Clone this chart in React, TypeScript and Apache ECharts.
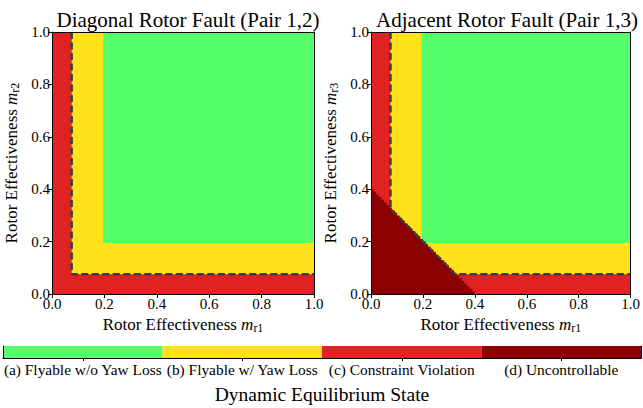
import React, { useEffect, useRef } from 'react';
import * as echarts from 'echarts';

const FONT = 'Liberation Serif';

const axisTicks = [0, 0.2, 0.4, 0.6, 0.8, 1.0];
const stateNames = [
  '(a) Flyable w/o Yaw Loss',
  '(b) Flyable w/ Yaw Loss',
  '(c) Constraint Violation',
  '(d) Uncontrollable',
];
const stateColors = ['#55FF6A', '#FFE11C', '#E02222', '#8B0000'];
const stateBarValues = [1, 1, 1, 1];

// region rectangles: [x0, y0, x1, y1, stateIndex]
const leftRegions = [
  [0, 0, 1, 1, 2],
  [0.075, 0.075, 1, 1, 1],
  [0.195, 0.195, 1, 1, 0],
];
const rightRegions = [
  [0, 0, 1, 1, 2],
  [0.075, 0.075, 1, 1, 1],
  [0.195, 0.195, 1, 1, 0],
];
// uncontrollable region (right plot): x-extent for each 0.01-high row from y = 0
const rightUncontrollableRows = [
  0.40, 0.39, 0.38, 0.37, 0.36, 0.35, 0.34, 0.33, 0.32, 0.31,
  0.30, 0.29, 0.28, 0.27, 0.26, 0.25, 0.24, 0.23, 0.22, 0.21,
  0.20, 0.19, 0.18, 0.17, 0.16, 0.15, 0.14, 0.13, 0.12, 0.11,
  0.10, 0.09, 0.08, 0.07, 0.06, 0.05, 0.04, 0.03, 0.02, 0.01,
];
const rowHeight = 0.01;
// dashed boundary polylines
const leftBoundary = [[0.075, 1], [0.075, 0.075], [1, 0.075]];
const rightBoundary = [[0.075, 1], [0.075, 0.325], [0.325, 0.075], [1, 0.075]];

function regionRender(params: any, api: any) {
  const x0 = api.value(0), y0 = api.value(1), x1 = api.value(2), y1 = api.value(3);
  const s = api.value(4);
  const p0 = api.coord([x0, y1]);
  const p1 = api.coord([x1, y0]);
  return {
    type: 'rect',
    shape: { x: p0[0], y: p0[1], width: p1[0] - p0[0], height: p1[1] - p0[1] },
    style: { fill: stateColors[s] },
  };
}

function staircaseRender(params: any, api: any) {
  const pts: number[][] = [];
  pts.push(api.coord([0, 0]));
  rightUncontrollableRows.forEach((ext, j) => {
    pts.push(api.coord([ext, j * rowHeight]));
    pts.push(api.coord([ext, (j + 1) * rowHeight]));
  });
  pts.push(api.coord([0, rightUncontrollableRows.length * rowHeight]));
  return {
    type: 'polygon',
    shape: { points: pts },
    style: { fill: stateColors[3] },
  };
}

const black = '#000';

const nameRich = {
  a: { fontFamily: FONT, fontSize: 17, color: black },
  m: { fontFamily: FONT, fontSize: 17, fontStyle: 'italic', color: black },
  s: { fontFamily: FONT, fontSize: 12, color: black, padding: [7, 0, 0, 0] },
};

function mainAxisX(gridIndex: number, sub: string) {
  return [
    {
      type: 'value', gridIndex, position: 'bottom', min: 0, max: 1, interval: 0.2,
      axisLine: { show: true, onZero: false, lineStyle: { color: black, width: 1 } },
      axisTick: { show: true, length: 4, lineStyle: { color: black } },
      axisLabel: { color: black, fontFamily: FONT, fontSize: 15, margin: 2, formatter: (v: number) => v.toFixed(1) },
      splitLine: { show: false },
      name: `{a|Rotor Effectiveness }{m|m}{s|${sub}}`,
      nameLocation: 'middle', nameGap: 19,
      nameTextStyle: { color: black, fontFamily: FONT, rich: nameRich },
      z: 5,
    },
    {
      type: 'value', gridIndex, position: 'top', min: 0, max: 1, interval: 0.2,
      axisLine: { show: true, onZero: false, lineStyle: { color: black, width: 1 } },
      axisTick: { show: false }, axisLabel: { show: false }, splitLine: { show: false }, z: 5,
    },
  ];
}

function mainAxisY(gridIndex: number, sub: string) {
  return [
    {
      type: 'value', gridIndex, position: 'left', min: 0, max: 1, interval: 0.2,
      axisLine: { show: true, onZero: false, lineStyle: { color: black, width: 1 } },
      axisTick: { show: true, length: 4, lineStyle: { color: black } },
      axisLabel: { color: black, fontFamily: FONT, fontSize: 15, margin: 2, formatter: (v: number) => v.toFixed(1) },
      splitLine: { show: false },
      name: `{a|Rotor Effectiveness }{m|m}{s|${sub}}`,
      nameLocation: 'middle', nameGap: 31,
      nameTextStyle: { color: black, fontFamily: FONT, rich: nameRich },
      z: 5,
    },
    {
      type: 'value', gridIndex, position: 'right', min: 0, max: 1, interval: 0.2,
      axisLine: { show: true, onZero: false, lineStyle: { color: black, width: 1 } },
      axisTick: { show: false }, axisLabel: { show: false }, splitLine: { show: false }, z: 5,
    },
  ];
}

export default function App() {
  const ref = useRef<HTMLDivElement>(null);
  useEffect(() => {
    document.body.style.margin = '0';
    const chart = echarts.init(ref.current!, null, { renderer: 'svg' });
    const option: any = {
      animation: false,
      backgroundColor: '#fff',
      title: [
        { text: 'Diagonal Rotor Fault (Pair 1,2)', left: 183, top: 4, textAlign: 'center',
          textStyle: { fontFamily: FONT, fontSize: 21, fontWeight: 'normal', color: black } },
        { text: 'Adjacent Rotor Fault (Pair 1,3)', left: 502, top: 4, textAlign: 'center',
          textStyle: { fontFamily: FONT, fontSize: 21, fontWeight: 'normal', color: black } },
      ],
      grid: [
        { left: 52, top: 32, width: 262, height: 262 },
        { left: 371, top: 32, width: 263, height: 262 },
        { left: 3, top: 346, width: 638, height: 12 },
      ],
      xAxis: [
        ...mainAxisX(0, 'r1'),
        ...mainAxisX(1, 'r1'),
        {
          type: 'category', gridIndex: 2, position: 'bottom', data: stateNames,
          axisLine: { show: true, lineStyle: { color: black, width: 1 } },
          axisTick: { show: true, alignWithLabel: true, length: 3, lineStyle: { color: black } },
          axisLabel: { interval: 0, color: black, fontFamily: FONT, fontSize: 15.4, margin: 4 },
          name: 'Dynamic Equilibrium State', nameLocation: 'middle', nameGap: 26,
          nameTextStyle: { color: black, fontFamily: FONT, fontSize: 19.5 },
          z: 5,
        },
        {
          type: 'category', gridIndex: 2, position: 'top', data: stateNames,
          axisLine: { show: true, lineStyle: { color: black, width: 1 } },
          axisTick: { show: false }, axisLabel: { show: false }, z: 5,
        },
      ],
      yAxis: [
        ...mainAxisY(0, 'r2'),
        ...mainAxisY(1, 'r3'),
        {
          type: 'value', gridIndex: 2, position: 'left', min: 0, max: 1,
          axisLine: { show: true, lineStyle: { color: black, width: 1 } },
          axisTick: { show: false }, axisLabel: { show: false }, splitLine: { show: false }, z: 5,
        },
        {
          type: 'value', gridIndex: 2, position: 'right', min: 0, max: 1,
          axisLine: { show: true, lineStyle: { color: black, width: 1 } },
          axisTick: { show: false }, axisLabel: { show: false }, splitLine: { show: false }, z: 5,
        },
      ],
      series: [
        {
          type: 'custom', xAxisIndex: 0, yAxisIndex: 0, data: leftRegions,
          encode: { x: [0, 2], y: [1, 3] }, renderItem: regionRender, z: 1, silent: true,
        },
        {
          type: 'custom', xAxisIndex: 2, yAxisIndex: 2, data: rightRegions,
          encode: { x: [0, 2], y: [1, 3] }, renderItem: regionRender, z: 1, silent: true,
        },
        {
          type: 'custom', xAxisIndex: 2, yAxisIndex: 2, data: [[0, 0]],
          renderItem: staircaseRender, z: 2, silent: true,
        },
        {
          type: 'line', xAxisIndex: 0, yAxisIndex: 0, data: leftBoundary, symbol: 'none', z: 3,
          lineStyle: { color: '#3c3c3c', width: 2.5, type: [7, 3.5] }, silent: true,
        },
        {
          type: 'line', xAxisIndex: 2, yAxisIndex: 2, data: rightBoundary, symbol: 'none', z: 3,
          lineStyle: { color: '#3c3c3c', width: 2.5, type: [7, 3.5] }, silent: true,
        },
        {
          type: 'bar', xAxisIndex: 4, yAxisIndex: 4, barWidth: '100%', barCategoryGap: 0,
          data: stateBarValues.map((v, i) => ({ value: v, itemStyle: { color: stateColors[i] } })),
          silent: true, z: 1,
        },
      ],
    };
    chart.setOption(option);
    return () => chart.dispose();
  }, []);
  return <div ref={ref} style={{ position: 'absolute', left: 0, top: 0, width: 643, height: 408 }} />;
}
